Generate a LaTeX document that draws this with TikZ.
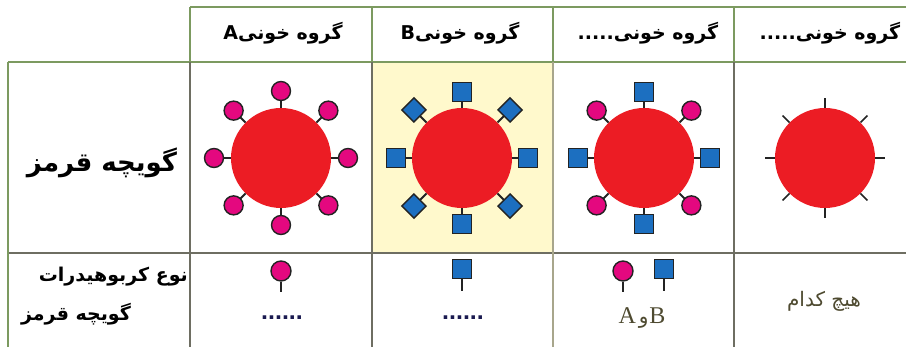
\documentclass[tikz,border=0pt]{standalone}
\usepackage{fontspec}
\usetikzlibrary{calc}
\TeXXeTstate=1
\newfontfamily\fa[Script=Arabic]{DejaVu Sans}
\newfontfamily\lat{Liberation Serif}
\newfontfamily\latsans{Liberation Sans}

\definecolor{gridgreen}{HTML}{7C9A60}
\definecolor{gridgray}{HTML}{6E6E62}
\definecolor{cellyellow}{HTML}{FFF9CC}
\definecolor{rbc}{HTML}{EC1C24}
\definecolor{antA}{HTML}{E4087F}
\definecolor{antB}{HTML}{1C6FC0}
\definecolor{ink}{HTML}{232323}
\definecolor{olive}{HTML}{4E4A30}
\definecolor{navy}{HTML}{1A1A50}

\tikzset{
  gridg/.style={draw=gridgreen, line width=1.8pt},
  gridk/.style={draw=gridgray, line width=1.8pt},
  cellrbc/.style={circle, fill=rbc, minimum size=100pt, inner sep=0pt},
  ball/.style={circle, draw=ink, fill=antA, line width=1.4pt, minimum size=19pt, inner sep=0pt},
  sqr/.style={rectangle, draw=ink, fill=antB, line width=1.4pt, minimum size=19pt, inner sep=0pt},
  dia/.style={sqr, rotate=45, minimum size=17pt},
  stem/.style={draw=ink, line width=1.8pt},
  tick/.style={draw=ink, line width=1.6pt},
  head/.style={font=\fa\bfseries\fontsize{19}{22}\selectfont, inner sep=0pt},
  rowlab/.style={font=\fa\bfseries\fontsize{19}{22}\selectfont, inner sep=0pt},
  dots/.style={font=\latsans\bfseries\fontsize{25}{26}\selectfont, text=navy, inner sep=0pt},
}

\begin{document}
\begin{tikzpicture}[x=1pt, y=-1pt]
\useasboundingbox (0,0) rectangle (906,347);

% highlighted cell of group B
\fill[cellyellow] (372,62) rectangle (553,253);

% table grid
\draw[gridg] (190,7) -- (906,7);
\draw[gridg] (8,62) -- (906,62);
\draw[gridk] (8,253) -- (906,253);
\draw[gridg] (8,62) -- (8,347);
\draw[gridg] (190,7) -- (190,62);
\draw[gridg] (372,7) -- (372,62);
\draw[gridg] (553,7) -- (553,62);
\draw[gridg] (734,7) -- (734,62);
\draw[gridk] (190,62) -- (190,347);
\draw[gridk] (372,62) -- (372,347);
\draw[draw=gridgray!60!cellyellow, line width=2.2pt] (553,62) -- (553,347);
\draw[gridk] (734,62) -- (734,347);

% column headings
\node[head] (hA)  at (283,33) {\beginR گروه خونیA\endR};
\node[head] (hB)  at (460,33) {\beginR گروه خونیB\endR};
\node[head] (hAB) at (648,33) {\beginR گروه خونی.....\endR};
\node[head] (hO)  at (830,33) {\beginR گروه خونی.....\endR};

% row headings
\node[font=\fa\bfseries\fontsize{26}{30}\selectfont, inner sep=0pt] (rRBC) at (102,163) {\beginR گویچه قرمز\endR};
\node[rowlab, anchor=east] (rType1) at (188,277) {\beginR نوع کربوهیدرات\endR};
\node[rowlab] (rType2) at (76,314) {\beginR گویچه قرمز\endR};

% group A: eight round antigens
\node[cellrbc] (cA) at (281,158) {};
\foreach \a in {0,45,...,315}{
  \coordinate (pA\a) at ($(cA)+(\a:67pt)$);
  \draw[stem] (cA.\a) -- (pA\a);
  \node[ball] (bA\a) at (pA\a) {};
}

% group B: square antigens on the axes, diamonds between
\node[cellrbc] (cB) at (462,158) {};
\foreach \a in {0,90,180,270}{
  \coordinate (pB\a) at ($(cB)+(\a:66pt)$);
  \draw[stem] (cB.\a) -- (pB\a);
  \node[sqr] (bB\a) at (pB\a) {};
}
\foreach \a in {45,135,225,315}{
  \coordinate (pB\a) at ($(cB)+(\a:68pt)$);
  \draw[stem] (cB.\a) -- (pB\a);
  \node[dia] (bB\a) at (pB\a) {};
}

% group AB: squares on the axes, balls between
\node[cellrbc] (cAB) at (644,158) {};
\foreach \a in {0,90,180,270}{
  \coordinate (pAB\a) at ($(cAB)+(\a:66pt)$);
  \draw[stem] (cAB.\a) -- (pAB\a);
  \node[sqr] (bAB\a) at (pAB\a) {};
}
\foreach \a in {45,135,225,315}{
  \coordinate (pAB\a) at ($(cAB)+(\a:67pt)$);
  \draw[stem] (cAB.\a) -- (pAB\a);
  \node[ball] (bAB\a) at (pAB\a) {};
}

% group O: bare stubs only
\node[cellrbc] (cO) at (825,158) {};
\foreach \a in {0,45,...,315}{
  \coordinate (tO\a) at ($(cO)+(\a:60pt)$);
  \draw[tick] (cO.\a) -- (tO\a);
}

% carbohydrate row
\node[ball, minimum size=20pt] (kA) at (281,271) {};
\coordinate (kAe) at (281,292);
\draw[stem] (kA.south) -- (kAe);
\node[dots] (dA) at (282,318) {......};

\node[sqr] (kB) at (462,269) {};
\coordinate (kBe) at (462,291);
\draw[stem] (kB.south) -- (kBe);
\node[dots] (dB) at (463,318) {......};

\node[ball, minimum size=20pt] (kAB1) at (623,271) {};
\coordinate (kAB1e) at (623,292);
\draw[stem] (kAB1.south) -- (kAB1e);
\node[sqr] (kAB2) at (664,269) {};
\coordinate (kAB2e) at (664,291);
\draw[stem] (kAB2.south) -- (kAB2e);
\node[text=olive, inner sep=0pt] (lAB) at (642,318)
  {\lat\fontsize{24}{26}\selectfont A\kern3pt{\fa\fontsize{20}{22}\selectfont و}\kern1pt B};

\node[text=olive, inner sep=0pt, font=\fa\fontsize{20}{22}\selectfont] (lO) at (824,301) {\beginR هیچ کدام\endR};
\end{tikzpicture}
\end{document}
